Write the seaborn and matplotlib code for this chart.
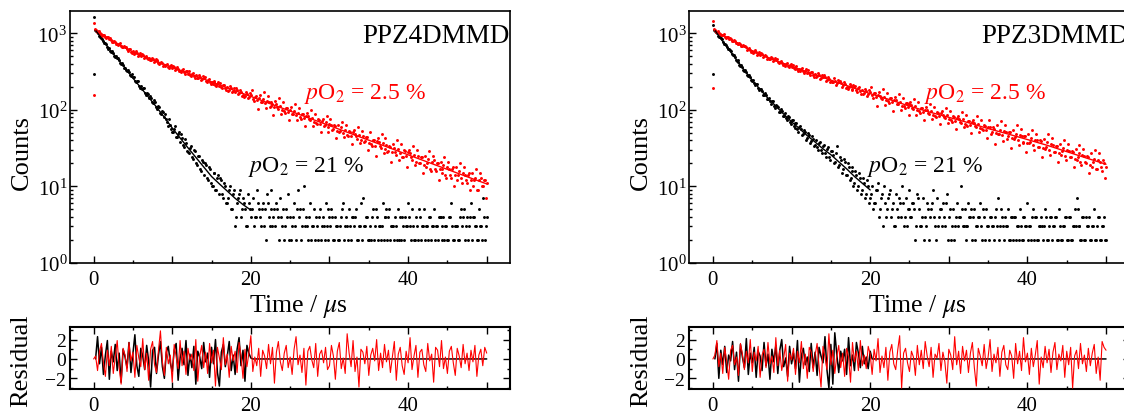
import numpy as np
import matplotlib
matplotlib.use("Agg")
import matplotlib.pyplot as plt
from matplotlib.ticker import MultipleLocator, LogLocator, NullFormatter, FuncFormatter
import seaborn as sns

# ---------------- data ----------------
# time channels (µs): main channels and the channels half-way between them
time = np.arange(1, 201) * 0.25
time_b = time - 0.125

titles = ["PPZ4DMMD", "PPZ3DMMD"]
label_low = r"$p$O$_2$ = 2.5 %"
label_high = r"$p$O$_2$ = 21 %"

# first two channels at t = 0 (rise of the pulse)
rise_t = [0.0, 0.0]
L_rise_red = [155, 1350]
L_rise_blk = [292, 1620]
R_rise_red = [192, 1450]
R_rise_blk = [290, 1300]

# counts, pO2 = 2.5 % (left panel)
L_red = [1095, 1042, 1018, 968, 958, 905, 897, 842, 830, 781, 779, 728, 722, 688, 660, 657, 618, 615, 577, 583,
         548, 560, 522, 511, 515, 487, 476, 480, 452, 462, 431, 437, 415, 405, 410, 384, 391, 366, 375, 352,
         358, 338, 342, 321, 330, 309, 318, 295, 288, 297, 276, 283, 262, 270, 251, 258, 241, 249, 230, 228,
         233, 214, 221, 206, 201, 210, 192, 198, 184, 193, 177, 173, 180, 165, 170, 158, 152, 161, 147, 155,
         140, 149, 134, 142, 128, 138, 122, 131, 126, 113, 121, 109, 118, 104, 111, 100, 97, 106, 93, 99,
         89, 96, 86, 92, 81, 89, 78, 84, 83, 73, 79, 70, 68, 75, 66, 72, 61, 69, 60, 65,
         64, 56, 61, 53, 52, 59, 50, 55, 47, 53, 45, 51, 49, 42, 47, 40, 45, 39, 44, 37,
         36, 41, 34, 39, 38, 32, 37, 31, 35, 29, 33, 28, 32, 26, 31, 27, 24, 30, 25, 28,
         27, 22, 26, 21, 25, 20, 24, 19, 18, 23, 17, 21, 22, 16, 20, 17, 15, 19, 14, 18,
         17, 13, 18, 14, 12, 16, 13, 15, 14, 11, 15, 12, 10, 13, 9, 12, 13, 10, 12, 11]
L_red_b = [1130, 1045, 1062, 985, 935, 962, 870, 895, 860, 772, 805, 735, 700, 738, 661, 684, 665, 596, 628, 557,
           540, 585, 512, 549, 538, 476, 510, 458, 447, 481, 424, 459, 446, 397, 428, 379, 371, 402, 356, 388,
           378, 329, 359, 318, 310, 341, 296, 325, 318, 276, 302, 264, 259, 288, 244, 273, 269, 231, 256, 219,
           216, 242, 205, 231, 225, 193, 214, 183, 179, 205, 171, 194, 192, 160, 181, 151, 148, 172, 141, 166,
           181, 130, 151, 104, 155, 128, 169, 105, 151, 110, 126, 87, 130, 108, 142, 89, 127, 92, 106, 73,
           108, 89, 118, 74, 106, 77, 89, 62, 91, 75, 100, 62, 89, 65, 74, 52, 76, 63, 83, 52,
           75, 54, 63, 43, 64, 53, 70, 44, 63, 45, 52, 36, 54, 45, 59, 37, 53, 38, 44, 30,
           51, 34, 41, 25, 43, 34, 48, 27, 43, 28, 34, 21, 36, 28, 41, 22, 36, 24, 29, 18,
           30, 24, 34, 19, 30, 20, 24, 15, 25, 20, 29, 16, 25, 17, 20, 12, 21, 17, 24, 13,
           21, 14, 17, 10, 18, 14, 20, 11, 18, 12, 14, 9, 15, 12, 17, 9, 15, 10, 12, 7]
# counts, pO2 = 21 % (left panel)
L_blk = [1075, 1010, 915, 872, 790, 752, 668, 636, 576, 556, 497, 478, 445, 398, 386, 348, 322, 316, 279, 272,
         240, 238, 208, 205, 195, 168, 166, 143, 145, 124, 128, 108, 112, 92, 96, 80, 76, 61, 64, 51,
         57, 44, 49, 38, 43, 33, 37, 28, 32, 24, 30, 20, 25, 17, 22, 14, 19, 12, 17, 10,
         15, 9, 13, 8, 12, 7, 10, 6, 9, 5, 8, 3, 6, 8, 4, 7, 5, 3, 6, 4,
         7, 4, 9, 5, 3, 6, 5, 8, 4, 9, 3, 5, 6, 4, 7, 3, 2, 5, 8, 4,
         3, 6, 2, 9, 5, 3, 10, 4, 2, 6, 3, 5, 4, 2, 5, 3, 3, 6, 2, 4,
         5, 2, 4, 3, 2, 4, 6, 3, 3, 5, 2, 4, 4, 2, 3, 6, 7, 3, 4, 2,
         2, 5, 3, 4, 3, 2, 6, 4, 5, 4, 2, 3, 2, 3, 5, 4, 4, 2, 3, 6,
         3, 5, 2, 4, 2, 4, 3, 5, 3, 2, 4, 3, 5, 3, 2, 4, 2, 4, 3, 2,
         4, 6, 2, 3, 3, 2, 5, 4, 2, 4, 3, 6, 4, 3, 2, 5, 3, 7, 2, 4]
L_blk_b = [1110, 1065, 935, 905, 855, 745, 728, 628, 582, 590, 505, 502, 470, 405, 410, 352, 330, 335, 285, 290,
           266, 228, 236, 196, 185, 191, 158, 163, 152, 127, 134, 109, 102, 108, 88, 95, 89, 69, 75, 57,
           52, 61, 44, 51, 48, 35, 42, 29, 27, 34, 23, 29, 19, 25, 16, 21, 20, 13, 18, 11,
           10, 15, 9, 14, 13, 8, 11, 6, 7, 10, 5, 9, 4, 7, 9, 5, 6, 3, 8, 5,
           5, 3, 4, 6, 4, 5, 3, 2, 6, 3, 5, 4, 3, 5, 2, 4, 5, 3, 4, 2,
           2, 4, 3, 5, 4, 2, 5, 3, 3, 4, 2, 3, 2, 3, 4, 2, 4, 2, 3, 5,
           3, 4, 2, 3, 2, 3, 5, 2, 4, 2, 3, 4, 3, 5, 2, 3, 2, 3, 4, 2,
           3, 4, 2, 5, 2, 3, 3, 2, 4, 2, 5, 3, 3, 4, 2, 2, 2, 3, 4, 3,
           4, 2, 3, 2, 3, 5, 2, 3, 2, 3, 4, 2, 3, 2, 3, 4, 4, 3, 2, 3,
           2, 4, 3, 2, 3, 2, 4, 3, 5, 3, 2, 4, 2, 4, 3, 2, 3, 2, 4, 3]
# counts, pO2 = 2.5 % (right panel)
R_red = [1102, 1038, 1025, 965, 962, 903, 896, 848, 845, 796, 790, 752, 728, 725, 680, 676, 655, 618, 614, 582,
         566, 573, 540, 527, 530, 500, 505, 476, 468, 470, 442, 447, 424, 428, 405, 396, 401, 379, 385, 362,
         355, 364, 339, 347, 340, 320, 326, 306, 300, 309, 288, 295, 276, 284, 262, 271, 266, 248, 256, 238,
         233, 242, 224, 232, 227, 210, 219, 201, 198, 207, 189, 197, 181, 191, 175, 184, 168, 178, 160, 169,
         155, 164, 147, 158, 153, 139, 149, 134, 131, 141, 126, 136, 133, 119, 128, 114, 112, 122, 108, 118,
         116, 102, 111, 99, 97, 106, 93, 101, 100, 89, 97, 86, 84, 93, 82, 90, 87, 78, 85, 75,
         74, 82, 72, 79, 77, 68, 75, 66, 64, 72, 63, 70, 68, 60, 66, 58, 56, 63, 54, 60,
         59, 51, 57, 50, 48, 55, 47, 53, 52, 45, 51, 43, 42, 49, 40, 47, 46, 38, 45, 37,
         37, 43, 35, 41, 40, 33, 39, 32, 31, 38, 30, 36, 35, 28, 34, 27, 26, 32, 25, 30,
         29, 24, 28, 23, 22, 27, 21, 26, 25, 20, 24, 19, 18, 23, 17, 22, 21, 16, 20, 18]
R_red_b = [1140, 1042, 1068, 978, 940, 968, 880, 902, 872, 795, 820, 748, 720, 752, 676, 707, 688, 612, 648, 574,
           558, 598, 528, 566, 555, 490, 528, 468, 457, 492, 434, 470, 458, 404, 438, 385, 380, 413, 362, 398,
           390, 339, 370, 326, 320, 352, 305, 337, 333, 286, 316, 272, 269, 301, 255, 287, 282, 240, 268, 229,
           228, 258, 214, 247, 241, 201, 232, 192, 190, 220, 182, 211, 206, 170, 197, 163, 160, 188, 153, 181,
           198, 143, 164, 114, 170, 141, 187, 117, 168, 122, 141, 98, 146, 121, 161, 100, 145, 105, 122, 85,
           127, 105, 139, 87, 126, 91, 105, 74, 109, 91, 121, 76, 110, 80, 92, 65, 96, 80, 107, 67,
           96, 70, 81, 57, 84, 70, 94, 59, 85, 62, 72, 50, 74, 61, 82, 51, 74, 54, 62, 43,
           73, 48, 59, 36, 63, 49, 71, 39, 64, 42, 52, 32, 55, 44, 63, 35, 56, 37, 46, 28,
           48, 38, 55, 30, 49, 33, 40, 24, 42, 33, 48, 26, 43, 28, 34, 21, 36, 29, 41, 22,
           36, 24, 29, 18, 31, 24, 35, 19, 31, 21, 25, 15, 27, 21, 30, 17, 27, 18, 22, 13]
# counts, pO2 = 21 % (right panel)
R_blk = [1080, 1012, 905, 862, 772, 731, 655, 628, 582, 518, 497, 441, 424, 378, 362, 322, 311, 276, 270, 238,
         222, 219, 193, 189, 178, 157, 156, 137, 129, 131, 114, 116, 110, 95, 97, 84, 79, 83, 70, 73,
         62, 67, 56, 60, 57, 48, 51, 43, 47, 39, 42, 35, 33, 37, 30, 34, 27, 31, 24, 29,
         26, 21, 34, 19, 22, 17, 21, 14, 18, 13, 16, 11, 14, 10, 13, 9, 11, 8, 10, 7,
         10, 6, 9, 11, 5, 8, 10, 4, 7, 9, 5, 3, 8, 4, 6, 10, 3, 7, 5, 9,
         4, 6, 2, 8, 5, 3, 7, 4, 6, 2, 5, 9, 3, 7, 4, 5, 6, 3, 8, 4,
         2, 5, 3, 6, 4, 10, 3, 5, 3, 6, 4, 2, 5, 3, 4, 6, 2, 4, 5, 3,
         4, 3, 2, 5, 7, 3, 4, 2, 3, 5, 2, 4, 4, 2, 3, 5, 2, 4, 3, 6,
         3, 2, 5, 4, 2, 3, 4, 2, 5, 2, 3, 4, 3, 4, 2, 5, 2, 3, 4, 2,
         4, 2, 3, 5, 7, 3, 2, 4, 2, 4, 3, 2, 3, 5, 2, 4, 2, 3, 4, 2]
R_blk_b = [1105, 1048, 928, 896, 835, 728, 712, 622, 612, 532, 526, 455, 445, 386, 384, 330, 329, 283, 286, 244,
           246, 210, 216, 182, 186, 158, 166, 139, 145, 121, 129, 107, 114, 94, 102, 83, 92, 74, 81, 65,
           74, 58, 67, 52, 61, 47, 55, 41, 50, 37, 46, 34, 41, 30, 38, 27, 35, 24, 33, 22,
           29, 20, 27, 18, 24, 15, 23, 14, 20, 12, 18, 10, 16, 9, 15, 8, 13, 7, 12, 6,
           8, 5, 6, 9, 4, 7, 3, 6, 5, 8, 4, 6, 3, 5, 7, 4, 6, 4, 3, 5,
           4, 6, 5, 3, 7, 3, 4, 2, 3, 5, 4, 6, 4, 2, 3, 5, 3, 4, 6, 2,
           5, 3, 2, 4, 3, 4, 5, 3, 2, 3, 4, 5, 4, 2, 3, 4, 3, 5, 2, 3,
           2, 4, 3, 4, 3, 2, 5, 3, 4, 3, 2, 4, 2, 4, 3, 2, 3, 2, 4, 3,
           2, 3, 4, 2, 4, 2, 3, 3, 3, 4, 2, 4, 2, 3, 4, 2, 3, 2, 3, 4,
           2, 4, 2, 3, 3, 5, 3, 2, 4, 2, 3, 4, 2, 3, 2, 3, 4, 2, 3, 2]

# fitted decay curves
L_fit_red_t = [0.3, 1, 2, 3, 4, 5, 6, 7, 8, 9, 10, 12.5, 15, 17.5, 20, 22.5, 25, 27.5, 30, 32.5, 35, 37.5, 40, 42.5, 45, 47.5, 50]
L_fit_red = [1080, 980, 850, 740, 650, 570, 518, 472, 430, 394, 360, 289, 232, 186, 150, 120, 96.5, 77.5, 62.3, 50, 40.2, 32.3, 25.9, 20.8, 16.7, 13.4, 10.8]
L_fit_blk_t = [0.3, 1, 2, 3, 4, 5, 6, 7, 8, 9, 10, 11, 12, 13, 14, 15, 16, 17, 18, 19, 20]
L_fit_blk = [1080, 860, 625, 470, 355, 260, 195, 146, 109, 80, 58, 43, 32, 24, 18, 13.5, 10.8, 8.7, 7.0, 5.8, 4.9]
R_fit_red_t = [0.3, 1, 2, 3, 4, 5, 6, 7, 8, 9, 10, 12.5, 15, 17.5, 20, 22.5, 25, 27.5, 30, 32.5, 35, 37.5, 40, 42.5, 45, 47.5, 50]
R_fit_red = [1080, 980, 860, 760, 670, 590, 535, 485, 440, 403, 370, 300, 245, 200, 163, 136, 112, 94, 80, 68, 57, 48.5, 41, 34.5, 28.5, 23.5, 19.5]
R_fit_blk_t = [0.3, 1, 2, 3, 4, 5, 6, 7, 8, 9, 10, 11, 12, 13, 14, 15, 16, 17, 18, 19, 20]
R_fit_blk = [1080, 850, 620, 450, 330, 245, 185, 142, 112, 88, 70, 57, 46, 38, 31, 26, 21, 17, 13.5, 11, 9]

# weighted residuals
L_res_red = [0.3, -1.2, 0.8, 1.6, -0.4, -1.8, 0.9, -0.7, 1.3, -1.5,
             0.2, 1.9, -0.9, -2.6, 1.1, 0.4, -1.3, 1.7, -0.2, 0.7,
             -1.9, 1.4, 0.1, -0.8, 2.1, -1.1, 0.6, -2.2, 1.0, 1.8,
             -0.6, -1.4, 0.9, 2.9, -0.3, -1.7, 1.2, -0.5, 0.4, -2.4,
             1.5, 0.2, -1.0, 1.9, -0.7, 0.8, -1.6, 1.1, -0.1, 0.5,
             -1.2, 2.0, -2.3, 0.3, 1.4, -0.9, 0.7, -1.5, 1.6, -0.4,
             0.9, -2.8, 1.2, 0.1, -1.1, 2.2, -0.6, 0.5, -1.9, 1.3,
             -0.2, 0.8, -1.4, 1.7, 0.4, -2.0, 1.0, -0.8, 0.6, 2.4,
             -1.3, 0.2, -0.7, 1.1, -1.8, 0.9, 0.3, -1.0, 1.5, -0.5,
             1.2, -2.5, 0.7, 1.8, -0.3, -1.2, 0.6, 1.4, -0.9, 0.2,
             -1.6, 1.0, 2.3, -0.6, 0.4, -1.4, 1.1, -2.7, 0.8, 1.3,
             -0.1, -0.9, 1.6, -1.8, 0.5, 0.9, -0.4, 1.2, -1.1, -0.7,
             1.4, 0.3, -2.1, 0.8, 1.7, -1.0, 0.1, -1.5, 2.6, 0.6,
             -0.8, 1.9, -1.3, 0.2, -2.9, 1.0, 0.7, -0.5, 1.3, -1.7,
             0.4, 1.1, -0.2, 2.0, -1.2, 0.6, -0.9, 1.5, -0.3, 0.9,
             -1.4, 0.2, 1.8, -2.2, 0.5, 1.2, -0.7, -1.6, 0.8, -0.4,
             2.2, -1.1, 0.3, 1.4, -1.9, 0.7, 1.0, -0.6, -1.3, 1.6,
             -0.2, 0.5, -2.4, 1.2, 0.9, -0.8, 1.9, -1.0, 0.2, -1.5,
             0.8, 1.3, -0.4, -1.7, 1.1, 0.3, -0.9, 1.5, -0.5, 0.6,
             -1.2, 0.9, -0.3, 1.4, -1.8, 0.4, 1.0, -0.7, 1.2, 0.6]
L_res_blk = [0.0, 2.3, -0.5, 1.2, -1.6, 0.4, 1.9, -2.1, 0.8, -0.3,
             1.5, -1.2, 0.6, -2.4, 1.0, 0.2, -0.9, 1.7, -1.4, 0.5,
             2.5, -0.7, -1.8, 1.1, 0.3, -1.1, 1.4, -0.2, -2.9, 0.9,
             1.2, -1.5, 0.4, 1.8, -0.8, -2.0, 0.7, 1.3, -0.4, -1.3,
             0.9, 1.6, -2.2, 0.1, 1.1, -0.6, 1.9, -1.7, 0.5, -0.9,
             1.3, -2.6, 0.8, 0.2, -1.0, 1.7, -0.3, 0.6, -1.9, 1.2,
             -0.5, 2.0, -1.4, -2.8, 0.7, 1.5, -0.8, 0.3, 1.8, -1.2,
             0.4, -1.6, 1.0, 2.2, -0.7, 0.9, -2.3, 1.4, 0.6, 0.1] + [0.0] * 120
R_res_red = [0.4, 1.9, -0.8, 0.6, -1.5, 1.2, -0.3, -2.1, 0.9, 1.4,
             -0.6, 0.2, -1.7, 1.6, 0.5, -1.1, 0.8, -0.4, 2.0, -1.3,
             0.7, -0.2, 1.3, -1.9, 0.4, 1.0, -0.9, 1.7, -0.5, 0.3,
             -1.4, 2.2, -0.7, 0.9, -1.2, 0.1, 1.5, -2.3, 0.6, -0.1,
             1.1, -1.6, 0.8, -0.4, 1.8, -1.0, 0.5, -2.0, 1.2, 0.7,
             -1.3, 0.4, 1.6, -0.8, -2.9, 1.3, 0.2, -1.1, 2.6, -0.6,
             0.9, -1.5, 0.3, 1.4, -0.9, 0.6, -1.8, 1.1, 0.2, -2.4,
             1.7, -0.3, 0.8, -1.2, 1.9, -0.7, 0.4, -1.0, 1.3, 0.5,
             -1.6, 1.0, -0.2, 2.1, -1.4, 0.3, -0.9, 1.2, -2.2, 0.7,
             1.5, -0.5, -1.1, 0.9, 2.4, -3.0, 0.6, 1.1, -0.4, -1.3,
             0.8, 0.2, -1.7, 1.4, -0.6, 0.9, -1.0, 1.8, 0.3, -0.8,
             1.2, -1.9, 0.5, 0.1, 1.6, -1.2, 0.7, -0.3, -2.5, 1.0,
             0.4, -1.1, 2.3, -0.6, 0.8, -1.5, 1.3, -0.2, 0.9, -1.4,
             0.6, 1.7, -0.9, -2.8, 1.1, 0.3, -0.7, 1.5, -1.0, 0.2,
             2.0, -1.3, 0.5, -0.4, 1.2, -1.8, 0.7, 1.4, -0.6, -1.1,
             0.9, 0.3, -2.0, 1.6, -0.5, 0.8, -1.2, 2.2, -0.3, 0.6,
             -1.6, 1.1, -0.8, 0.4, 1.9, -2.6, 0.2, -0.9, 1.3, -0.4,
             1.0, -1.4, 0.7, 1.7, -1.1, 0.5, -0.2, 1.4, -1.9, 0.8,
             -0.6, 1.2, -3.0, 0.3, 0.9, -1.0, 1.6, -0.5, 0.4, -1.3,
             1.1, -0.7, 0.6, 1.5, -1.5, 0.2, -2.2, 1.8, 1.2, 0.9]
R_res_blk = [0.0, 1.6, -2.0, 0.9, -0.6, 1.3, -1.4, 0.4, -0.2, 1.8,
             -1.1, 0.7, -2.3, 1.5, 0.2, -0.9, 2.1, -1.6, 0.6, -0.4,
             1.2, -1.9, 0.8, 0.3, -1.2, 1.7, -0.7, 0.5, -2.1, 1.0,
             -0.3, 1.4, -1.5, 0.9, 2.0, -0.8, 0.1, -1.8, 1.3, -0.5,
             0.6, -1.0, 1.9, -2.4, 0.4, 1.1, -0.6, 0.2, -1.3, 1.6,
             -0.9, 0.7, -1.7, 1.2, 0.3, -0.4, 2.3, -1.1, -3.0, 1.5,
             -2.6, 2.7, 0.5, -1.4, 0.8, -0.2, 1.0, -1.6, 2.2, -0.7,
             0.4, -1.2, 1.7, 0.6, -0.9, 1.3, -0.5, 0.2, -1.0, 0.8] + [0.0] * 120
res_start_t = [0.0]
res_start_v = [0.0]

# ---------------- style ----------------
sns.set_style("ticks")
plt.rcParams["font.family"] = ["Liberation Serif", "DejaVu Serif"]
plt.rcParams["mathtext.fontset"] = "stix"
plt.rcParams["axes.unicode_minus"] = True
for k in ["axes.edgecolor", "xtick.color", "ytick.color", "text.color", "axes.labelcolor"]:
    plt.rcParams[k] = "black"

RED = "#ff0000"
BLK = "#000000"

fig = plt.figure(figsize=(11.24, 4.14), dpi=100)

W = 0.3917
main_pos = [[0.0623, 0.3623, W, 0.608], [0.6133, 0.3623, W, 0.608]]
res_pos = [[0.0623, 0.058, W, 0.1498], [0.6133, 0.058, W, 0.1498]]

panels = [
    (L_rise_red, L_rise_blk, L_red, L_red_b, L_blk, L_blk_b, L_fit_red_t, L_fit_red, L_fit_blk_t, L_fit_blk, L_res_red, L_res_blk),
    (R_rise_red, R_rise_blk, R_red, R_red_b, R_blk, R_blk_b, R_fit_red_t, R_fit_red, R_fit_blk_t, R_fit_blk, R_res_red, R_res_blk),
]

xfmt = FuncFormatter(lambda v, p: f"{int(round(v))}" if abs(v % 20) < 1e-6 or abs(v % 20 - 20) < 1e-6 else "")
all_t = list(time) + list(time_b) + rise_t

for i, (rr, rb, red, red_b, blk, blk_b, frt, frv, fbt, fbv, rres, bres) in enumerate(panels):
    ax = fig.add_axes(main_pos[i])
    sns.scatterplot(x=all_t, y=blk + blk_b + rb, ax=ax, color=BLK, s=4.5, linewidth=0, legend=False, zorder=2)
    sns.scatterplot(x=all_t, y=red + red_b + rr, ax=ax, color=RED, s=4.5, linewidth=0, legend=False, zorder=3)
    sns.lineplot(x=frt, y=frv, ax=ax, color=RED, lw=1.0, estimator=None, sort=False, zorder=4)
    sns.lineplot(x=fbt, y=fbv, ax=ax, color=BLK, lw=1.0, estimator=None, sort=False, zorder=4)
    ax.set_yscale("log")
    ax.set_xlim(-3, 53)
    ax.set_ylim(1, 1940)
    ax.xaxis.set_major_locator(MultipleLocator(10))
    ax.xaxis.set_minor_locator(MultipleLocator(5))
    ax.xaxis.set_major_formatter(xfmt)
    ax.yaxis.set_major_locator(LogLocator(base=10))
    ax.yaxis.set_minor_locator(LogLocator(base=10, subs=np.arange(2, 10)))
    ax.yaxis.set_minor_formatter(NullFormatter())
    ax.tick_params(which="both", direction="in", top=False, right=False, labelsize=15, width=1.0)
    ax.tick_params(which="major", length=5)
    ax.tick_params(which="minor", length=2.5)
    ax.tick_params(axis="x", pad=5)
    ax.tick_params(axis="y", pad=2)
    for sp in ax.spines.values():
        sp.set_linewidth(1.2)
        sp.set_visible(True)
    ax.set_xlabel(r"Time / $\mu$s", fontsize=18.5)
    ax.xaxis.set_label_coords(0.519, -0.115)
    ax.set_ylabel("Counts", fontsize=19)
    ax.yaxis.set_label_coords(-0.085, 0.444)
    ax.text(0.663, 0.878, titles[i], transform=ax.transAxes, fontsize=19.5, ha="left", va="baseline")
    ax.text(0.532, 0.655, label_low, transform=ax.transAxes, fontsize=17, color=RED, ha="left", va="baseline")
    ax.text(0.404, 0.365, label_high, transform=ax.transAxes, fontsize=17, color=BLK, ha="left", va="baseline")

    rx = fig.add_axes(res_pos[i])
    sns.lineplot(x=list(time), y=bres, ax=rx, color=BLK, lw=1.1, estimator=None, sort=False, zorder=2)
    sns.lineplot(x=res_start_t + list(time), y=res_start_v + rres, ax=rx, color=RED, lw=0.8,
                 estimator=None, sort=False, zorder=3)
    rx.set_xlim(-3, 53)
    rx.set_ylim(-3.1, 3.3)
    rx.xaxis.set_major_locator(MultipleLocator(10))
    rx.xaxis.set_minor_locator(MultipleLocator(5))
    rx.xaxis.set_major_formatter(xfmt)
    rx.yaxis.set_major_locator(MultipleLocator(2))
    rx.yaxis.set_minor_locator(MultipleLocator(1))
    rx.tick_params(which="both", direction="in", top=True, right=True, labelsize=15, width=1.0)
    rx.tick_params(axis="y", labelsize=14, pad=3)
    rx.tick_params(axis="x", pad=5)
    rx.tick_params(which="major", length=5)
    rx.tick_params(which="minor", length=2.5)
    for sp in rx.spines.values():
        sp.set_linewidth(1.5)
    rx.set_xlabel("")
    rx.set_ylabel("Residual", fontsize=19)
    rx.yaxis.set_label_coords(-0.085, 0.48)

fig.savefig("out.png", dpi=100)
